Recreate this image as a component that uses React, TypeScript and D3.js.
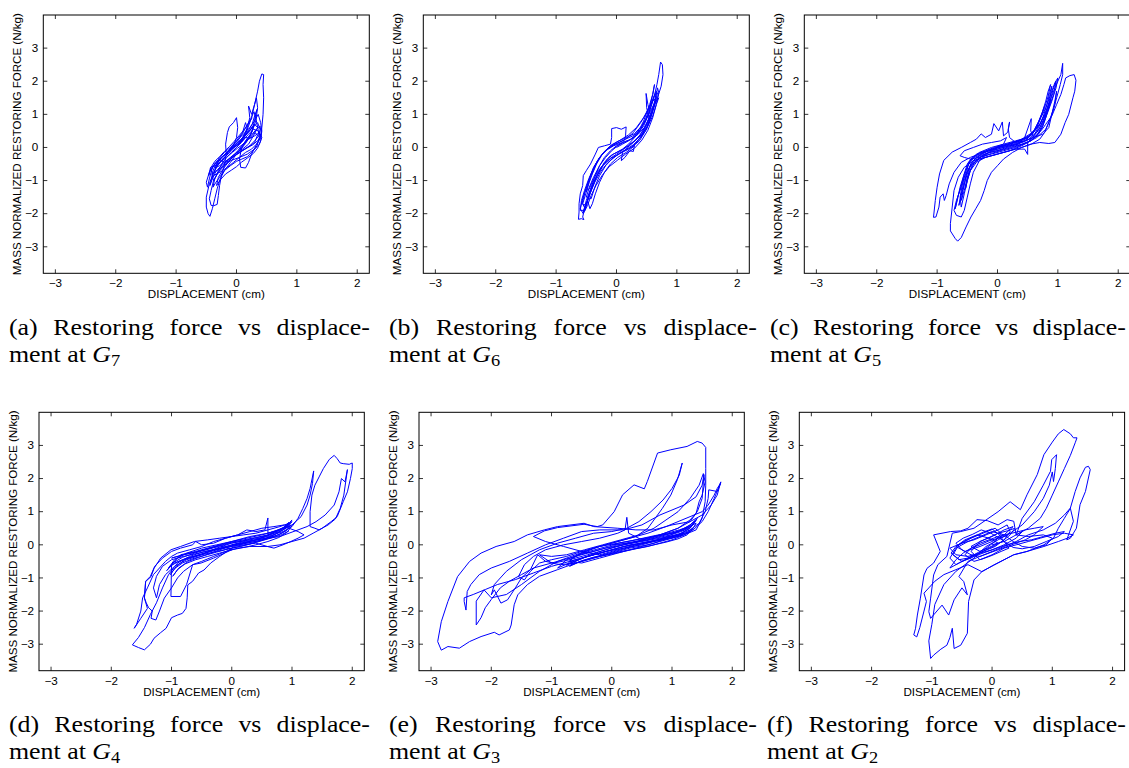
import React from "react";
import * as d3 from "d3";

type Pt = [number, number];

// Restoring force (N/kg) against displacement (cm), one trace per floor level.
const G7: Pt[] = [
  [0, 0], [0.08, 0.15], [0.15, 0.3], [0.22, 0.28], [0.3, 0.45], [0.35, 0.38], [0.3, 0.15], [0.2, 0.02],
  [0.1, -0.1], [0.02, -0.2], [-0.08, -0.3], [-0.18, -0.42], [-0.28, -0.55], [-0.35, -0.62], [-0.3, -0.4],
  [-0.22, -0.25], [-0.12, -0.1], [-0.02, 0.05], [0.1, 0.2], [0.2, 0.4], [0.28, 0.55], [0.36, 0.5], [0.4, 0.3],
  [0.33, 0.1], [0.25, -0.05], [0.15, -0.15], [0.05, -0.3], [-0.05, -0.45], [-0.15, -0.6], [-0.25, -0.72],
  [-0.38, -0.85], [-0.42, -0.7], [-0.35, -0.45], [-0.25, -0.3], [-0.15, -0.15], [-0.05, 0.0], [0.05, 0.12],
  [0.12, 0.35], [0.18, 0.6], [0.22, 0.9], [0.2, 1.25], [0.25, 1.0], [0.3, 1.3], [0.33, 1.5], [0.35, 1.2],
  [0.32, 0.8], [0.25, 0.45], [0.15, 0.2], [0.08, -0.05], [0.05, -0.35], [0.07, -0.6], [0.15, -0.62],
  [0.2, -0.45], [0.25, -0.2], [0.32, 0.05], [0.4, 0.3], [0.42, 0.6], [0.44, 1.0], [0.45, 1.5], [0.44, 1.9],
  [0.45, 2.2], [0.42, 2.22], [0.38, 2.0], [0.35, 1.7], [0.3, 1.3], [0.25, 0.9], [0.18, 0.55], [0.1, 0.3],
  [0.02, 0.1], [-0.08, -0.1], [-0.2, -0.3], [-0.3, -0.5], [-0.38, -0.75], [-0.45, -1.1], [-0.5, -1.5],
  [-0.5, -1.8], [-0.47, -2.0], [-0.44, -2.08], [-0.4, -1.85], [-0.36, -1.55], [-0.32, -1.25], [-0.27, -0.95],
  [-0.2, -0.7], [-0.1, -0.45], [0.0, -0.2], [0.1, 0.05], [0.2, 0.25], [0.3, 0.35], [0.38, 0.45], [0.42, 0.3],
  [0.38, 0.1], [0.3, -0.05], [0.18, -0.2], [0.05, -0.3], [-0.1, -0.4], [-0.2, -0.55], [-0.3, -0.75],
  [-0.38, -1.0], [-0.42, -1.3], [-0.45, -1.55], [-0.42, -1.75], [-0.38, -1.76], [-0.32, -1.72], [-0.3, -1.45],
  [-0.28, -1.15], [-0.25, -0.85], [-0.2, -0.55], [-0.17, -0.2], [-0.18, 0.1], [-0.15, 0.45], [-0.12, 0.62],
  [-0.05, 0.75], [0.0, 0.9], [0.02, 0.6], [0.0, 0.3], [-0.05, 0.05], [-0.12, -0.15], [-0.22, -0.35],
  [-0.32, -0.5], [-0.4, -0.6], [-0.45, -0.95], [-0.48, -1.2], [-0.5, -1.05], [-0.45, -0.75], [-0.38, -0.55],
  [-0.28, -0.35], [-0.18, -0.2], [-0.08, -0.05], [0.02, 0.15], [0.12, 0.3], [0.22, 0.5], [0.3, 0.7],
  [0.35, 0.6], [0.28, 0.35], [0.2, 0.1], [0.1, -0.05], [0.0, -0.15], [-0.1, -0.3], [-0.2, -0.45],
  [-0.3, -0.35], [-0.2, -0.15], [-0.1, 0.0], [0.0, 0.2], [0.1, 0.45], [0.15, 0.75], [0.18, 0.55],
  [0.12, 0.25], [0.05, 0.1], [0.12, 0.3], [0.2, 0.52], [0.26, 0.7], [0.3, 0.95], [0.34, 1.15], [0.3, 0.85],
  [0.27, 0.55], [0.22, 0.32], [0.15, 0.12], [0.06, -0.08], [-0.04, -0.22], [-0.14, -0.38], [-0.24, -0.58],
  [-0.32, -0.8], [-0.38, -1.0], [-0.41, -0.8], [-0.36, -0.58], [-0.3, -0.42], [-0.22, -0.3], [-0.14, -0.12],
  [-0.06, 0.05], [0.03, 0.22], [0.1, 0.42], [0.17, 0.66], [0.24, 0.88], [0.29, 1.08], [0.33, 0.8],
  [0.36, 0.52], [0.38, 0.28], [0.34, 0.05], [0.27, -0.12], [0.18, -0.28], [0.09, -0.35], [0.0, -0.42],
  [-0.1, -0.55], [-0.2, -0.7], [-0.28, -0.9], [-0.34, -1.05], [-0.39, -1.2], [-0.36, -0.95], [-0.3, -0.7],
  [-0.24, -0.48], [-0.16, -0.3], [-0.08, -0.15], [0.0, 0.0], [0.07, 0.18], [0.14, 0.36], [0.21, 0.5],
  [0.28, 0.62], [0.35, 0.75], [0.39, 0.55], [0.37, 0.35], [0.3, 0.2], [0.22, 0.05], [0.13, -0.05],
  [0.04, -0.15], [-0.06, -0.3], [-0.16, -0.48], [-0.26, -0.62], [-0.34, -0.72], [-0.4, -0.95], [-0.44, -1.15],
  [-0.4, -0.85], [-0.33, -0.6], [-0.25, -0.4], [-0.17, -0.25], [-0.1, -0.02], [-0.02, 0.15], [0.06, 0.3],
  [0.14, 0.45], [0.22, 0.6], [0.3, 0.8], [0.36, 1.0], [0.4, 0.75], [0.42, 0.5], [0.4, 0.2], [0.35, -0.02],
  [0.28, -0.18], [0.18, -0.32], [0.08, -0.45], [0.0, -0.58], [-0.08, -0.68], [-0.18, -0.8], [-0.27, -0.98],
  [-0.33, -1.15], [-0.3, -0.9], [-0.22, -0.65], [-0.14, -0.45], [-0.06, -0.28], [0.02, -0.1], [0.1, 0.08],
  [0.18, 0.25], [0.26, 0.4], [0.33, 0.55], [0.39, 0.65], [0.41, 0.42], [0.36, 0.22], [0.27, 0.08],
  [0.17, -0.02], [0.07, -0.12], [-0.03, -0.25], [-0.13, -0.4], [-0.23, -0.52], [-0.31, -0.66], [-0.37, -0.78],
  [-0.33, -0.5], [-0.26, -0.32], [-0.18, -0.18], [-0.1, -0.05], [-0.01, 0.1], [0.08, 0.25], [0.16, 0.42],
  [0.23, 0.55], [0.29, 0.7], [0.25, 0.45], [0.19, 0.26], [0.11, 0.1], [0.02, -0.02], [-0.07, -0.15],
  [-0.17, -0.3], [-0.27, -0.45], [-0.35, -0.55], [-0.43, -0.6], [-0.46, -0.85], [-0.42, -0.6], [-0.36, -0.42],
  [-0.28, -0.28], [-0.2, -0.12], [-0.12, 0.02], [-0.04, 0.18], [0.04, 0.35], [0.12, 0.52], [0.2, 0.72],
  [0.26, 0.9],
];

const G6: Pt[] = [
  [0, 0], [0.1, 0.1], [0.2, 0.2], [0.3, 0.35], [0.38, 0.55], [0.45, 0.8], [0.5, 1.05], [0.55, 1.3], [0.6, 1.6],
  [0.63, 1.9], [0.6, 1.6], [0.55, 1.2], [0.48, 0.85], [0.4, 0.55], [0.3, 0.3], [0.2, 0.1], [0.1, -0.05],
  [0, -0.15], [-0.1, -0.25], [-0.2, -0.45], [-0.3, -0.75], [-0.38, -1.05], [-0.45, -1.4], [-0.5, -1.7],
  [-0.55, -1.95], [-0.5, -1.6], [-0.42, -1.2], [-0.35, -0.85], [-0.28, -0.55], [-0.2, -0.3], [-0.1, -0.1],
  [0, 0.05], [0.12, 0.15], [0.25, 0.25], [0.35, 0.4], [0.45, 0.65], [0.52, 0.95], [0.58, 1.3], [0.62, 1.55],
  [0.66, 1.7], [0.63, 1.35], [0.58, 1.0], [0.5, 0.7], [0.4, 0.4], [0.3, 0.2], [0.2, 0.05], [0.08, -0.08],
  [-0.05, -0.2], [-0.15, -0.35], [-0.25, -0.6], [-0.35, -0.95], [-0.42, -1.3], [-0.48, -1.6], [-0.52, -1.85],
  [-0.56, -1.7], [-0.5, -1.35], [-0.45, -1.05], [-0.4, -0.8], [-0.33, -0.5], [-0.25, -0.25], [-0.15, -0.05],
  [-0.05, 0.08], [0.05, 0.15], [0.15, 0.25], [0.27, 0.35], [0.38, 0.5], [0.48, 0.8], [0.55, 1.1], [0.62, 1.5],
  [0.67, 1.9], [0.7, 2.2], [0.73, 2.58], [0.76, 2.5], [0.77, 2.2], [0.74, 1.85], [0.68, 1.5], [0.6, 1.15],
  [0.55, 0.9], [0.47, 0.6], [0.38, 0.35], [0.28, 0.15], [0.18, 0.0], [0.1, -0.15], [0.08, -0.4], [0.14, -0.3],
  [0.22, -0.1], [0.28, -0.12], [0.3, 0.1], [0.4, 0.3], [0.5, 0.55], [0.55, 0.8], [0.5, 1.2], [0.49, 1.63],
  [0.52, 1.3], [0.56, 1.0], [0.6, 1.2], [0.65, 1.5], [0.68, 1.8], [0.7, 1.65], [0.66, 1.3], [0.6, 0.95],
  [0.52, 0.65], [0.42, 0.4], [0.32, 0.22], [0.22, 0.1], [0.12, -0.05], [0.0, -0.2], [-0.12, -0.35],
  [-0.22, -0.55], [-0.32, -0.85], [-0.4, -1.2], [-0.47, -1.55], [-0.53, -1.85], [-0.56, -2.1], [-0.54, -2.18],
  [-0.58, -2.15], [-0.63, -2.17], [-0.62, -1.95], [-0.62, -1.7], [-0.6, -1.4], [-0.56, -1.15], [-0.55, -0.85],
  [-0.5, -0.7], [-0.43, -0.5], [-0.35, -0.2], [-0.3, 0.0], [-0.2, 0.05], [-0.1, 0.1], [-0.08, 0.3],
  [-0.08, 0.57], [0.0, 0.6], [0.08, 0.55], [0.16, 0.62], [0.15, 0.35], [0.14, 0.26], [0.1, 0.15], [0.02, 0.05],
  [-0.08, -0.1], [-0.18, -0.3], [-0.28, -0.55], [-0.38, -0.9], [-0.45, -1.2], [-0.5, -1.5], [-0.42, -1.55],
  [-0.36, -1.2], [-0.28, -0.85], [-0.18, -0.55], [-0.05, -0.3], [0.1, -0.12], [0.25, 0.0], [0.38, 0.2],
  [0.48, 0.5], [0.56, 0.85], [0.62, 1.2], [0.66, 1.5], [0.6, 1.4], [0.5, 1.05], [0.4, 0.75], [0.28, 0.45],
  [0.15, 0.25], [0.0, 0.12], [-0.15, -0.05], [-0.28, -0.3], [-0.38, -0.6], [-0.46, -1.0], [-0.52, -1.35],
  [-0.57, -1.7], [-0.5, -1.75], [-0.44, -1.4], [-0.36, -1.05], [-0.26, -0.72], [-0.14, -0.45], [0.0, -0.25],
  [0.14, -0.08], [0.28, 0.08], [0.4, 0.3], [0.5, 0.62], [0.58, 0.98], [0.64, 1.35], [0.68, 1.65], [0.64, 1.6],
  [0.55, 1.25], [0.45, 0.9], [0.33, 0.6], [0.2, 0.38], [0.06, 0.22], [-0.08, 0.08], [-0.2, -0.12],
  [-0.32, -0.42], [-0.42, -0.8], [-0.5, -1.2], [-0.56, -1.55], [-0.6, -1.85], [-0.55, -2.0], [-0.48, -1.75],
  [-0.42, -1.45], [-0.34, -1.15], [-0.24, -0.85], [-0.12, -0.58], [0.02, -0.38], [0.15, -0.2], [0.3, -0.02],
  [0.42, 0.22], [0.52, 0.52], [0.6, 0.9], [0.66, 1.3], [0.7, 1.5], [0.62, 1.3], [0.52, 0.95], [0.42, 0.65],
  [0.3, 0.42], [0.16, 0.3], [0.02, 0.18], [-0.12, 0.02], [-0.24, -0.2], [-0.34, -0.5], [-0.43, -0.9],
  [-0.5, -1.3], [-0.45, -1.25], [-0.38, -0.95], [-0.3, -0.7], [-0.2, -0.48], [-0.08, -0.32], [0.06, -0.18],
  [0.2, -0.05], [0.32, 0.12], [0.42, 0.38], [0.5, 0.7], [0.56, 1.0], [0.53, 0.85], [0.46, 0.6], [0.36, 0.4],
  [0.24, 0.25], [0.1, 0.15], [-0.05, 0.05], [-0.18, -0.1], [-0.28, -0.3], [-0.38, -0.62], [-0.46, -0.95],
  [-0.53, -1.3], [-0.58, -1.6], [-0.6, -1.9], [-0.52, -1.9], [-0.48, -1.6], [-0.44, -1.85], [-0.4, -1.7],
  [-0.35, -1.4], [-0.28, -1.05], [-0.2, -0.75], [-0.1, -0.5], [0.02, -0.3], [0.16, -0.15], [0.3, 0.05],
];

const G5: Pt[] = [
  [0, 0], [0.15, 0.05], [0.3, 0.12], [0.45, 0.2], [0.55, 0.35], [0.65, 0.6], [0.72, 0.9], [0.8, 1.2],
  [0.88, 1.6], [0.95, 1.95], [1.0, 2.1], [0.97, 1.8], [0.9, 1.4], [0.82, 1.0], [0.75, 0.65], [0.68, 0.4],
  [0.55, 0.2], [0.4, 0.05], [0.2, -0.1], [0, -0.2], [-0.2, -0.3], [-0.35, -0.45], [-0.45, -0.7], [-0.5, -1.0],
  [-0.55, -1.4], [-0.6, -1.8], [-0.62, -1.5], [-0.58, -1.1], [-0.52, -0.7], [-0.45, -0.4], [-0.3, -0.15],
  [-0.1, 0.0], [0.1, 0.1], [0.3, 0.2], [0.5, 0.3], [0.62, 0.5], [0.72, 0.75], [0.8, 1.05], [0.87, 1.4],
  [0.92, 1.75], [0.97, 2.0], [0.93, 1.6], [0.86, 1.25], [0.78, 0.9], [0.7, 0.6], [0.6, 0.35], [0.5, 0.15],
  [0.5, -0.21], [0.45, -0.05], [0.3, -0.05], [0.1, -0.15], [-0.1, -0.25], [-0.3, -0.35], [-0.45, -0.55],
  [-0.55, -0.9], [-0.62, -1.3], [-0.68, -1.6], [-0.72, -1.9], [-0.68, -2.05], [-0.6, -2.1], [-0.55, -1.9],
  [-0.5, -1.5], [-0.45, -1.1], [-0.4, -0.75], [-0.3, -0.4], [-0.15, -0.15], [0, 0.0], [0.2, 0.1], [0.4, 0.25],
  [0.58, 0.45], [0.7, 0.7], [0.78, 1.0], [0.86, 1.35], [0.93, 1.7], [1.0, 2.0], [1.05, 2.2], [1.08, 2.54],
  [1.08, 2.2], [1.04, 1.9], [0.98, 1.5], [0.92, 1.1], [0.85, 0.75], [0.78, 0.45], [0.7, 0.25], [0.56, 0.1],
  [0.4, 0.0], [0.2, -0.1], [0.0, -0.2], [-0.2, -0.3], [-0.4, -0.4], [-0.55, -0.6], [-0.65, -0.9],
  [-0.72, -1.3], [-0.75, -1.8], [-0.78, -2.3], [-0.78, -2.52], [-0.7, -2.75], [-0.66, -2.83], [-0.6, -2.72],
  [-0.52, -2.4], [-0.44, -2.1], [-0.36, -1.85], [-0.28, -1.6], [-0.22, -1.3], [-0.17, -1.0], [-0.1, -0.75],
  [0.0, -0.55], [0.1, -0.35], [0.25, -0.15], [0.4, 0.0], [0.55, 0.1], [0.7, 0.15], [0.85, 0.12], [0.95, 0.15],
  [1.05, 0.4], [1.12, 0.75], [1.18, 1.0], [1.25, 1.5], [1.28, 1.7], [1.3, 2.03], [1.27, 2.2], [1.2, 2.17],
  [1.13, 2.1], [1.1, 1.9], [1.05, 1.6], [0.98, 1.3], [0.9, 0.95], [0.8, 0.7], [0.72, 0.5], [0.6, 0.3],
  [0.45, 0.2], [0.3, 0.15], [0.2, 0.3], [0.18, 0.55], [0.2, 0.77], [0.17, 0.46], [0.1, 0.35], [0.08, 0.77],
  [0.02, 0.5], [-0.06, 0.72], [-0.1, 0.4], [-0.2, 0.3], [-0.27, 0.41], [-0.35, 0.25], [-0.45, 0.15],
  [-0.6, 0.0], [-0.75, -0.14], [-0.89, -0.39], [-0.96, -0.8], [-1.0, -1.2], [-1.03, -1.6], [-1.06, -2.11],
  [-1.02, -2.1], [-0.97, -1.8], [-0.95, -1.5], [-0.9, -1.4], [-0.88, -1.6], [-0.85, -1.45], [-0.8, -1.1],
  [-0.72, -0.75], [-0.6, -0.45], [-0.45, -0.3], [-0.3, -0.2], [-0.15, -0.1], [0.0, -0.05], [0.2, 0.05],
  [0.35, 0.1], [0.45, 0.3], [0.56, 0.87], [0.55, 0.5], [0.6, 0.3], [0.75, 0.4], [0.85, 0.6], [0.9, 1.0],
  [0.95, 1.4], [0.98, 1.7], [0.95, 1.3], [0.88, 0.9], [0.8, 0.55], [0.65, 0.3], [0.5, 0.15], [0.3, 0.0],
  [0.1, -0.1], [-0.1, -0.2], [-0.3, -0.3], [-0.45, -0.35], [-0.55, -0.3], [-0.62, -0.25], [-0.55, -0.1],
  [-0.4, 0.0], [-0.25, 0.1], [-0.1, 0.15], [0.05, 0.2], [0.15, 0.3], [0.1, 0.1], [-0.05, 0.0], [-0.2, -0.1],
  [-0.35, -0.2], [-0.48, -0.45], [-0.52, -0.85], [-0.57, -1.3], [-0.6, -1.6], [-0.55, -1.3], [-0.5, -0.9],
  [-0.42, -0.55], [-0.3, -0.3], [-0.15, -0.15], [0.0, -0.1], [0.2, 0.0], [0.4, 0.1], [0.55, 0.2], [0.65, 0.35],
  [0.72, 0.6], [0.78, 0.85], [0.84, 1.15], [0.88, 1.45], [0.85, 1.2], [0.8, 0.9], [0.74, 0.6], [0.66, 0.38],
  [0.56, 0.22], [0.42, 0.1], [0.25, 0.0], [0.08, -0.08], [-0.1, -0.18], [-0.26, -0.28], [-0.38, -0.4],
  [-0.46, -0.62], [-0.5, -0.95], [-0.53, -1.25], [-0.5, -1.0], [-0.45, -0.7], [-0.38, -0.45], [-0.25, -0.25],
  [-0.1, -0.12], [0.05, -0.02], [0.22, 0.06], [0.38, 0.15], [0.52, 0.25], [0.62, 0.42], [0.7, 0.68],
  [0.76, 0.95], [0.82, 1.3], [0.86, 1.6], [0.9, 1.85], [0.87, 1.5], [0.82, 1.15], [0.76, 0.82], [0.68, 0.52],
  [0.58, 0.3], [0.45, 0.18], [0.3, 0.08], [0.12, -0.02], [-0.05, -0.12], [-0.22, -0.2], [-0.35, -0.3],
  [-0.44, -0.48], [-0.5, -0.8], [-0.55, -1.1], [-0.6, -1.45], [-0.64, -1.75], [-0.6, -1.4], [-0.55, -1.0],
  [-0.48, -0.65], [-0.4, -0.4], [-0.28, -0.22], [-0.12, -0.08], [0.05, 0.05], [0.2, 0.12], [0.35, 0.2],
  [0.5, 0.3], [0.6, 0.5], [0.68, 0.78], [0.74, 1.05], [0.8, 1.4], [0.84, 1.7], [0.88, 1.9], [0.84, 1.55],
  [0.78, 1.2], [0.7, 0.85], [0.62, 0.55], [0.52, 0.35], [0.38, 0.22], [0.2, 0.12], [0.02, 0.02],
  [-0.15, -0.08], [-0.3, -0.18], [-0.42, -0.3], [-0.5, -0.5], [-0.56, -0.85], [-0.62, -1.2], [-0.66, -1.55],
  [-0.7, -1.85], [-0.66, -1.5], [-0.6, -1.15], [-0.55, -0.8], [-0.48, -0.5], [-0.38, -0.3], [-0.22, -0.15],
  [-0.05, -0.05], [0.12, 0.05], [0.3, 0.15], [0.46, 0.25], [0.58, 0.4], [0.66, 0.65], [0.72, 0.95],
  [0.78, 1.25],
];

const G4: Pt[] = [
  [0, 0], [0.2, 0.05], [0.4, 0.15], [0.6, 0.3], [0.8, 0.45], [0.95, 0.6], [1.0, 0.7], [0.85, 0.45],
  [0.65, 0.25], [0.45, 0.1], [0.25, 0.0], [0, -0.1], [-0.25, -0.2], [-0.5, -0.3], [-0.75, -0.4],
  [-0.95, -0.55], [-1.05, -0.7], [-0.95, -0.45], [-0.75, -0.25], [-0.5, -0.1], [-0.25, 0.0], [0, 0.1],
  [0.25, 0.2], [0.5, 0.3], [0.7, 0.4], [0.9, 0.55], [1.0, 0.75], [0.9, 0.5], [0.7, 0.3], [0.5, 0.15],
  [0.25, 0.05], [0, -0.05], [-0.3, -0.15], [-0.55, -0.25], [-0.8, -0.35], [-1.0, -0.45], [-1.15, -0.65],
  [-1.25, -0.95], [-1.3, -1.3], [-1.25, -1.6], [-1.2, -1.2], [-1.1, -0.9], [-0.95, -0.65], [-0.75, -0.45],
  [-0.5, -0.3], [-0.25, -0.1], [0, 0.05], [0.3, 0.15], [0.6, 0.25], [0.85, 0.4], [1.0, 0.55], [1.1, 0.8],
  [1.18, 1.1], [1.25, 1.4], [1.3, 1.7], [1.36, 2.23], [1.34, 1.85], [1.3, 1.5], [1.25, 1.2], [1.15, 0.85],
  [1.0, 0.6], [0.8, 0.45], [0.6, 0.35], [0.6, 0.81], [0.55, 0.45], [0.4, 0.4], [0.25, 0.45], [0.1, 0.3],
  [-0.1, 0.2], [-0.3, 0.05], [-0.5, 0.0], [-0.6, 0.1], [-0.65, 0.0], [-0.85, -0.1], [-1.0, -0.2],
  [-1.15, -0.4], [-1.28, -0.65], [-1.35, -0.95], [-1.43, -1.1], [-1.45, -1.6], [-1.42, -1.75], [-1.38, -1.9],
  [-1.32, -2.0], [-1.34, -2.22], [-1.26, -2.27], [-1.2, -2.0], [-1.12, -1.61], [-1.0, -1.3], [-0.9, -1.0],
  [-0.8, -0.8], [-0.65, -0.6], [-0.5, -0.5], [-0.3, -0.35], [-0.1, -0.2], [0.1, -0.1], [0.3, -0.05],
  [0.6, -0.05], [0.8, 0.0], [1.0, 0.1], [1.2, 0.2], [1.35, 0.35], [1.5, 0.5], [1.65, 0.7], [1.75, 0.85],
  [1.85, 1.3], [1.92, 1.6], [1.97, 2.0], [2.0, 2.3], [2.0, 2.47], [1.95, 2.43], [1.85, 2.45], [1.8, 2.47],
  [1.75, 2.6], [1.7, 2.7], [1.62, 2.58], [1.52, 2.3], [1.45, 2.05], [1.38, 1.8], [1.33, 1.5], [1.3, 1.0],
  [1.3, 0.55], [1.38, 0.5], [1.45, 0.45], [1.6, 0.6], [1.72, 0.78], [1.8, 1.1], [1.86, 1.5], [1.92, 2.27],
  [1.88, 1.9], [1.82, 2.0], [1.78, 1.6], [1.7, 1.2], [1.55, 0.9], [1.4, 0.7], [1.25, 0.55], [1.1, 0.45],
  [0.95, 0.35], [0.8, 0.25], [0.6, 0.2], [0.4, 0.15], [0.2, 0.1], [0, 0.0], [-0.2, -0.1], [-0.45, -0.2],
  [-0.7, -0.35], [-0.9, -0.55], [-1.05, -0.9], [-1.15, -1.3], [-1.25, -1.75], [-1.35, -2.1], [-1.45, -2.5],
  [-1.55, -2.8], [-1.65, -3.02], [-1.55, -3.1], [-1.45, -3.17], [-1.35, -3.0], [-1.29, -2.82], [-1.18, -2.65],
  [-1.09, -2.52], [-1.0, -2.2], [-0.9, -2.12], [-0.82, -2.07], [-0.76, -1.92], [-0.74, -1.6], [-0.73, -1.21],
  [-0.65, -1.1], [-0.55, -0.85], [-0.46, -0.76], [-0.35, -0.55], [-0.2, -0.35], [0.04, -0.05], [0.2, 0.0],
  [0.4, 0.05], [0.59, -0.05], [0.7, -0.1], [0.85, 0.0], [0.98, 0.1], [1.1, 0.2], [1.2, 0.3], [1.1, 0.4],
  [0.95, 0.5], [0.87, 0.6], [0.7, 0.55], [0.5, 0.5], [0.3, 0.4], [0.1, 0.3], [-0.1, 0.2], [-0.3, 0.1],
  [-0.5, -0.05], [-0.7, -0.15], [-0.9, -0.25], [-1.0, -0.35], [-1.1, -0.5], [-1.2, -0.7], [-1.3, -0.9],
  [-1.4, -1.3], [-1.48, -1.6], [-1.51, -2.0], [-1.58, -2.4], [-1.62, -2.52], [-1.51, -2.22], [-1.4, -1.92],
  [-1.45, -1.61], [-1.43, -1.11], [-1.34, -0.96], [-1.29, -0.71], [-1.18, -0.4], [-1.01, -0.15],
  [-0.85, -0.05], [-0.62, 0.1], [-0.4, 0.15], [-0.2, 0.2], [0.0, 0.25], [0.2, 0.3], [0.4, 0.35],
  [0.6, 0.45], [0.8, 0.55], [0.95, 0.65], [0.85, 0.5], [0.6, 0.35], [0.3, 0.25], [0.0, 0.1], [-0.3, -0.05],
  [-0.6, -0.2], [-0.85, -0.3], [-1.0, -0.6], [-1.01, -1.56], [-0.85, -1.56], [-0.75, -1.2], [-0.65, -0.6],
  [-0.51, -0.55], [-0.3, -0.4], [0, -0.15], [-0.2, -0.02], [-0.4, -0.12], [-0.6, -0.22], [-0.8, -0.3],
  [-1.0, -0.4], [-0.8, -0.3], [-0.6, -0.22], [-0.4, -0.12], [-0.2, -0.02], [0.0, 0.08], [0.2, 0.15],
  [0.4, 0.22], [0.6, 0.3], [0.75, 0.42], [0.88, 0.55], [0.95, 0.68], [0.85, 0.5], [0.7, 0.35], [0.5, 0.2],
  [0.3, 0.1], [0.1, 0.02], [-0.1, -0.08], [-0.3, -0.18], [-0.5, -0.28], [-0.7, -0.38], [-0.88, -0.5],
  [-1.0, -0.62], [-1.08, -0.78], [-0.98, -0.55], [-0.82, -0.38], [-0.62, -0.25], [-0.42, -0.15],
  [-0.22, -0.05], [-0.02, 0.05], [0.18, 0.12], [0.38, 0.2], [0.58, 0.28], [0.76, 0.38], [0.9, 0.5],
  [0.98, 0.6], [0.9, 0.42], [0.74, 0.28], [0.55, 0.15], [0.35, 0.05], [0.15, -0.05], [-0.05, -0.12],
  [-0.25, -0.22], [-0.45, -0.32], [-0.65, -0.42], [-0.82, -0.55], [-0.95, -0.72], [-1.02, -0.9],
  [-0.92, -0.65], [-0.78, -0.45], [-0.58, -0.32], [-0.38, -0.2], [-0.18, -0.1], [0.02, 0.0], [0.22, 0.08],
  [0.42, 0.15], [0.62, 0.22], [0.8, 0.32], [0.92, 0.45], [1.0, 0.58], [0.92, 0.38], [0.78, 0.22], [0.6, 0.1],
  [0.4, 0.0], [0.2, -0.08], [0.0, -0.15], [-0.2, -0.25], [-0.4, -0.35], [-0.6, -0.45], [-0.78, -0.58],
  [-0.9, -0.75], [-0.98, -0.95], [-0.88, -0.7], [-0.72, -0.5], [-0.55, -0.38], [-0.35, -0.25], [-0.15, -0.12],
  [0.05, -0.02], [0.25, 0.05], [0.45, 0.12], [0.65, 0.2], [0.82, 0.3], [0.95, 0.42],
];

const G3: Pt[] = [
  [0, 0], [0.3, 0.05], [0.6, 0.15], [0.9, 0.3], [1.1, 0.4], [1.3, 0.55], [1.4, 0.75], [1.3, 0.5], [1.1, 0.3],
  [0.8, 0.15], [0.5, 0.0], [0.2, -0.1], [-0.1, -0.2], [-0.4, -0.35], [-0.7, -0.55], [-0.9, -0.7],
  [-0.75, -0.45], [-0.5, -0.25], [-0.2, -0.05], [0.1, 0.05], [0.4, 0.15], [0.7, 0.25], [1.0, 0.35],
  [1.2, 0.45], [1.35, 0.6], [1.42, 0.8], [1.3, 0.6], [1.1, 0.4], [0.85, 0.2], [0.55, 0.05], [0.25, -0.1],
  [-0.05, -0.25], [-0.35, -0.4], [-0.6, -0.55], [-0.85, -0.6], [-1.0, -0.55], [-1.2, -0.3], [-1.0, -0.35],
  [-0.75, -0.3], [-0.45, -0.15], [-0.15, 0.0], [0.15, 0.15], [0.45, 0.3], [0.7, 0.5], [0.9, 0.75],
  [1.1, 1.0], [1.3, 1.4], [1.45, 1.8], [1.52, 2.15], [1.55, 1.9], [1.5, 1.5], [1.45, 1.3], [1.4, 0.95],
  [1.3, 0.7], [1.1, 0.5], [0.8, 0.3], [0.5, 0.15], [0.28, 0.35], [0.25, 0.83], [0.22, 0.45], [0.1, 0.35],
  [-0.2, 0.2], [-0.5, 0.1], [-0.8, 0.0], [-1.1, -0.15], [-1.3, -0.35], [-1.45, -0.6], [-1.55, -0.96],
  [-1.45, -1.06], [-1.35, -0.8], [-1.2, -0.55], [-1.0, -0.45], [-0.75, -0.35], [-0.5, -0.2], [-0.2, -0.05],
  [0.1, 0.1], [0.4, 0.25], [0.6, 0.5], [0.76, 0.9], [0.84, 1.1], [0.98, 1.5], [1.09, 1.97], [1.17, 2.47],
  [1.12, 2.1], [1.0, 1.7], [0.85, 1.35], [0.65, 1.0], [0.45, 0.7], [0.25, 0.5], [0, 0.4], [-0.3, 0.35],
  [-0.6, 0.2], [-0.9, 0.05], [-1.2, -0.15], [-1.5, -0.45], [-1.75, -0.8], [-1.95, -1.2], [-2.0, -1.51],
  [-1.95, -1.36], [-1.84, -1.76], [-1.73, -1.66], [-1.6, -1.3], [-1.5, -1.0], [-1.35, -0.75], [-1.23, -0.3],
  [-1.1, -0.5], [-0.96, -0.55], [-0.7, -0.45], [-0.4, -0.3], [-0.1, -0.15], [0.2, 0.0], [0.5, 0.1],
  [0.8, 0.2], [1.1, 0.3], [1.3, 0.45], [1.45, 0.65], [1.55, 1.0], [1.6, 1.4], [1.61, 1.66], [1.75, 1.61],
  [1.81, 1.87], [1.75, 1.7], [1.7, 1.5], [1.6, 1.2], [1.5, 1.0], [1.3, 0.85], [1.1, 0.7], [0.9, 0.55],
  [0.6, 0.35], [0.3, 0.2], [0, 0.05], [-0.3, -0.1], [-0.6, -0.3], [-0.9, -0.5], [-1.2, -0.8], [-1.5, -1.2],
  [-1.75, -1.5], [-2.0, -1.6], [-2.12, -1.36], [-2.25, -1.7], [-2.25, -2.42], [-2.17, -2.2], [-2.1, -1.9],
  [-2.0, -1.65], [-1.85, -1.3], [-1.7, -1.1], [-1.5, -0.9], [-1.3, -0.7], [-1.0, -0.55], [-0.7, -0.4],
  [-0.4, -0.25], [-0.1, -0.1], [0.2, 0.0], [0.5, 0.15], [0.8, 0.3], [1.1, 0.5], [1.3, 0.75], [1.42, 1.0],
  [1.5, 1.4], [1.53, 2.12], [1.5, 1.8], [1.4, 1.45], [1.2, 1.2], [1.0, 1.05], [0.8, 0.9], [0.5, 0.6],
  [0.2, 0.45], [-0.2, 0.45], [-0.5, 0.4], [-0.8, 0.2], [-1.1, 0.0], [-1.4, -0.25], [-1.7, -0.5],
  [-2.0, -0.7], [-2.2, -0.9], [-2.34, -1.2], [-2.4, -1.41], [-2.42, -1.97], [-2.45, -1.71], [-2.45, -1.6],
  [-2.3, -1.5], [-2.1, -1.35], [-1.9, -1.2], [-1.6, -1.05], [-1.3, -0.85], [-1.0, -0.65], [-0.7, -0.5],
  [-0.4, -0.35], [-0.1, -0.2], [0.2, -0.05], [0.5, 0.05], [0.8, 0.15], [1.1, 0.25], [1.35, 0.45],
  [1.5, 0.7], [1.6, 1.0], [1.7, 1.4], [1.78, 1.75], [1.81, 1.9], [1.75, 1.5], [1.65, 1.2], [1.5, 0.9],
  [1.3, 0.7], [1.0, 0.6], [0.7, 0.45], [0.4, 0.45], [0.1, 0.5], [-0.3, 0.55], [-0.46, 0.65], [-0.9, 0.55],
  [-1.12, 0.45], [-1.4, 0.3], [-1.62, 0.1], [-1.92, -0.05], [-2.17, -0.25], [-2.36, -0.5], [-2.56, -0.96],
  [-2.72, -1.71], [-2.83, -2.32], [-2.89, -2.92], [-2.83, -3.18], [-2.72, -3.07], [-2.53, -3.12],
  [-2.36, -2.92], [-2.17, -2.77], [-1.95, -2.64], [-1.87, -2.72], [-1.7, -2.57], [-1.67, -2.42],
  [-1.62, -1.81], [-1.56, -1.51], [-1.4, -1.2], [-1.2, -0.95], [-0.9, -0.75], [-0.6, -0.55], [-0.3, -0.4],
  [0, -0.25], [0.3, -0.1], [0.6, 0.0], [0.9, 0.15], [1.2, 0.3], [1.4, 0.45], [1.5, 0.8], [1.55, 1.3],
  [1.56, 1.8], [1.56, 2.3], [1.56, 2.94], [1.5, 3.07], [1.42, 3.12], [1.25, 2.97], [0.98, 2.87],
  [0.76, 2.77], [0.59, 1.91], [0.54, 1.69], [0.37, 1.81], [0.18, 1.51], [0.04, 1.0], [-0.15, 0.6],
  [-0.24, 0.55], [-0.46, 0.62], [-0.9, 0.52], [-1.12, 0.42], [-1.3, 0.25], [-1.1, 0.1], [-0.8, -0.05],
  [-0.5, -0.2], [-0.2, -0.3], [0.1, -0.15], [0.4, 0.0], [0.7, 0.1], [1.0, 0.2], [1.2, 0.35], [1.0, 0.25],
  [0.7, 0.05], [0.4, -0.1], [0.1, -0.25], [-0.2, -0.4], [-0.5, -0.55], [-0.7, -0.5], [-0.5, -0.4],
  [-0.3, -0.3], [-0.1, -0.2], [0.1, -0.1], [0.3, 0.0], [0.5, 0.05], [0.7, 0.12], [0.9, 0.2], [1.1, 0.28],
  [1.25, 0.38], [1.35, 0.5], [1.25, 0.3], [1.1, 0.18], [0.9, 0.08], [0.7, 0.0], [0.5, -0.08], [0.3, -0.15],
  [0.1, -0.22], [-0.1, -0.3], [-0.3, -0.38], [-0.5, -0.48], [-0.65, -0.6], [-0.7, -0.45], [-0.55, -0.3],
  [-0.35, -0.22], [-0.15, -0.12], [0.05, -0.02], [0.25, 0.06], [0.45, 0.12], [0.65, 0.2], [0.85, 0.3],
  [1.05, 0.38], [1.2, 0.48], [1.3, 0.6], [1.38, 0.72], [1.3, 0.5], [1.15, 0.35], [0.95, 0.25], [0.75, 0.15],
  [0.55, 0.08], [0.35, 0.0], [0.15, -0.08], [-0.05, -0.18], [-0.25, -0.28], [-0.45, -0.38], [-0.62, -0.5],
  [-0.75, -0.62], [-0.65, -0.4], [-0.48, -0.25], [-0.28, -0.15], [-0.08, -0.05], [0.12, 0.05], [0.32, 0.12],
  [0.52, 0.2], [0.72, 0.28], [0.92, 0.35], [1.12, 0.45], [1.28, 0.55], [1.4, 0.65], [1.32, 0.42],
  [1.18, 0.28], [1.0, 0.15], [0.8, 0.05], [0.6, -0.05], [0.4, -0.12], [0.2, -0.2], [0.0, -0.28],
  [-0.2, -0.35], [-0.4, -0.45], [-0.58, -0.55], [-0.7, -0.65], [-0.6, -0.5], [-0.42, -0.35], [-0.22, -0.22],
  [-0.02, -0.1], [0.18, 0.0], [0.38, 0.08], [0.58, 0.15], [0.78, 0.22], [0.98, 0.3], [1.15, 0.4], [1.3, 0.52],
];

const G2: Pt[] = [
  [0, 0], [0.2, 0.1], [0.35, 0.25], [0.5, 0.4], [0.4, 0.2], [0.2, 0.0], [0, -0.15], [-0.2, -0.25],
  [-0.4, -0.35], [-0.6, -0.3], [-0.7, -0.1], [-0.5, 0.05], [-0.3, 0.15], [-0.1, 0.3], [0.1, 0.45],
  [0.25, 0.6], [0.3, 0.4], [0.2, 0.15], [0.05, -0.05], [-0.15, -0.2], [-0.35, -0.4], [-0.5, -0.5],
  [-0.65, -0.3], [-0.55, 0.0], [-0.35, 0.2], [-0.15, 0.35], [0.05, 0.5], [0.15, 0.35], [0.05, 0.1],
  [-0.1, -0.1], [-0.3, -0.3], [-0.45, -0.45], [-0.6, -0.6], [-0.7, -0.4], [-0.6, -0.1], [-0.4, 0.1],
  [-0.2, 0.25], [0.0, 0.4], [0.2, 0.3], [0.35, 0.1], [0.5, -0.05], [0.7, -0.1], [0.9, 0.0], [1.0, 0.2],
  [0.85, 0.3], [0.6, 0.25], [0.4, 0.3], [0.36, 0.71], [0.25, 0.76], [0.1, 0.6], [-0.08, 0.73],
  [-0.25, 0.76], [-0.4, 0.5], [-0.52, 0.42], [-0.69, 0.4], [-0.97, 0.3], [-0.86, -0.2], [-0.97, -0.55],
  [-1.08, -0.71], [-1.13, -0.91], [-1.19, -1.61], [-1.24, -2.12], [-1.27, -2.52], [-1.3, -2.72],
  [-1.25, -2.78], [-1.2, -2.5], [-1.13, -2.0], [-1.09, -1.71], [-1.13, -1.46], [-1.05, -1.3], [-0.95, -1.1],
  [-0.8, -0.9], [-0.6, -0.75], [-0.4, -0.6], [-0.17, -0.81], [0.03, -0.61], [0.36, -0.3], [0.58, -0.2],
  [0.86, 0.0], [1.02, 0.2], [1.1, 0.5], [1.2, 0.8], [1.3, 1.1], [1.35, 0.71], [1.24, 0.15], [1.3, 0.2],
  [1.4, 0.5], [1.46, 1.21], [1.55, 1.61], [1.63, 2.27], [1.6, 2.37], [1.55, 2.34], [1.46, 2.02],
  [1.38, 1.61], [1.3, 1.11], [1.2, 0.9], [1.05, 0.65], [0.85, 0.45], [0.6, 0.3], [0.4, 0.1], [0.2, -0.05],
  [0, -0.2], [-0.2, -0.35], [-0.4, -0.5], [-0.55, -0.96], [-0.47, -1.11], [-0.41, -1.51], [-0.5, -1.3],
  [-0.63, -1.66], [-0.72, -2.12], [-0.83, -1.82], [-1.02, -2.22], [-1.05, -2.02], [-1.02, -1.61],
  [-0.97, -0.91], [-0.9, -0.6], [-0.75, -0.35], [-0.66, 0.35], [-0.52, 0.4], [-0.3, 0.5], [-0.1, 0.75],
  [0.1, 1.0], [0.3, 1.3], [0.47, 1.06], [0.58, 1.51], [0.75, 2.12], [0.86, 2.72], [1.0, 3.1], [1.1, 3.35],
  [1.19, 3.48], [1.3, 3.35], [1.35, 3.23], [1.41, 3.23], [1.38, 3.08], [1.3, 2.7], [1.2, 2.3], [1.1, 1.9],
  [1.0, 1.5], [0.9, 1.1], [0.8, 0.8], [0.6, 0.5], [0.4, 0.3], [0.5, 0.8], [0.7, 1.3], [0.85, 1.8],
  [0.97, 2.22], [0.99, 2.57], [1.07, 2.72], [1.05, 2.3], [1.02, 1.91], [1.0, 2.2], [0.95, 1.8],
  [0.85, 1.4], [0.7, 1.0], [0.5, 0.6], [0.3, 0.35], [0.1, 0.15], [-0.1, -0.05], [-0.3, -0.4], [-0.6, -0.8],
  [-0.8, -1.2], [-0.95, -1.8], [-1.0, -2.4], [-1.05, -2.9], [-1.02, -3.43], [-0.97, -3.33], [-0.85, -3.15],
  [-0.75, -3.03], [-0.7, -2.8], [-0.66, -2.52], [-0.63, -3.13], [-0.52, -3.03], [-0.41, -2.67],
  [-0.39, -1.71], [-0.3, -1.06], [-0.17, -0.81], [0.03, -0.61], [0.36, -0.3], [0.58, -0.2], [0.86, -0.05],
  [1.1, 0.1], [1.25, 0.2], [1.35, 0.3], [1.2, 0.35], [1.0, 0.3], [0.8, 0.2], [0.6, 0.1], [0.4, 0.0],
  [0.2, -0.1], [0.0, -0.3], [-0.2, -0.45], [-0.35, -0.2], [-0.2, 0.1], [0.0, 0.25], [0.2, 0.45],
  [0.35, 0.55], [0.2, 0.3], [0.0, 0.1], [-0.2, -0.05], [-0.45, -0.2], [-0.6, -0.05], [-0.45, 0.15],
  [-0.25, 0.3], [-0.05, 0.2], [0.1, 0.05], [-0.05, -0.08], [-0.2, -0.2], [-0.35, -0.05], [-0.2, 0.1],
  [-0.05, 0.22], [0.1, 0.35], [0.25, 0.42], [0.38, 0.5], [0.3, 0.3], [0.18, 0.12], [0.05, -0.02],
  [-0.1, -0.15], [-0.25, -0.28], [-0.4, -0.4], [-0.55, -0.45], [-0.68, -0.25], [-0.6, -0.05], [-0.45, 0.12],
  [-0.3, 0.25], [-0.15, 0.38], [0.0, 0.48], [0.12, 0.3], [0.2, 0.1], [0.28, -0.1], [0.15, -0.2],
  [0.0, -0.32], [-0.15, -0.42], [-0.3, -0.5], [-0.45, -0.3], [-0.35, -0.1], [-0.2, 0.05], [-0.05, 0.15],
  [0.1, 0.25], [0.25, 0.32], [0.4, 0.38], [0.55, 0.45], [0.7, 0.5], [0.85, 0.55], [0.7, 0.3], [0.55, 0.15],
  [0.4, 0.05], [0.25, -0.05], [0.1, -0.15], [-0.05, -0.25], [-0.2, -0.35], [-0.35, -0.3], [-0.5, -0.15],
  [-0.6, 0.05], [-0.48, 0.2], [-0.32, 0.32], [-0.18, 0.45], [-0.02, 0.35], [0.12, 0.2], [0.25, 0.05],
  [0.35, -0.08], [0.5, -0.12], [0.7, -0.05], [0.9, 0.1], [1.1, 0.25], [1.2, 0.4], [1.05, 0.35], [0.85, 0.25],
  [0.65, 0.15], [0.45, 0.1], [0.25, 0.0], [0.05, -0.12], [-0.15, -0.25], [-0.35, -0.38], [-0.55, -0.55],
  [-0.7, -0.7], [-0.6, -0.45], [-0.48, -0.25], [-0.35, -0.1], [-0.2, 0.0], [-0.05, 0.12], [0.1, 0.2],
  [0.25, 0.28],
];

const X_TICKS = [-3, -2, -1, 0, 1, 2];
const Y_TICKS = [-3, -2, -1, 0, 1, 2, 3];
const X_DOMAIN: [number, number] = [-3.2, 2.2];
const Y_DOMAIN: [number, number] = [-3.8, 4];
const X_LABEL = "DISPLACEMENT (cm)";
const Y_LABEL = "MASS NORMALIZED RESTORING FORCE (N/kg)";
const CAPTION_WORDS = ["Restoring", "force", "vs", "displace-"];

const PANELS = [
  { id: "a", level: "7", data: G7, left: 43.3, top: 15, width: 326, height: 258.3, capL: 9, capR: 370, capY: 335 },
  { id: "b", level: "6", data: G6, left: 423.3, top: 15, width: 326, height: 258.3, capL: 389, capR: 757, capY: 335 },
  { id: "c", level: "5", data: G5, left: 804.3, top: 15, width: 326, height: 258.3, capL: 770, capR: 1126, capY: 335 },
  { id: "d", level: "4", data: G4, left: 39, top: 412.3, width: 325.3, height: 258.4, capL: 9, capR: 370, capY: 732 },
  { id: "e", level: "3", data: G3, left: 419, top: 412.3, width: 325.3, height: 258.4, capL: 389, capR: 757, capY: 732 },
  { id: "f", level: "2", data: G2, left: 799.3, top: 412.3, width: 325.3, height: 258.4, capL: 767, capR: 1126, capY: 732 },
];

const SANS = '"Liberation Sans", Arial, Helvetica, sans-serif';
const SERIF = '"Liberation Serif", "Times New Roman", Times, serif';
const CAP_SIZE = 22.5;
// Glyphs in the figure are set a little wider than their height suggests.
const STRETCH = 1.15;

function fmt(v: number) {
  return v < 0 ? `\u2212${Math.abs(v)}` : `${v}`;
}

let measureCtx: CanvasRenderingContext2D | null = null;
function measure(text: string, font: string) {
  if (!measureCtx) measureCtx = document.createElement("canvas").getContext("2d");
  if (!measureCtx) return text.length * 10;
  measureCtx.font = font;
  return measureCtx.measureText(text).width;
}

function Caption({ id, level, x0, x1, y }: { id: string; level: string; x0: number; x1: number; y: number }) {
  const words = [`(${id})`, ...CAPTION_WORDS];
  const font = `${CAP_SIZE}px "Liberation Serif"`;
  const widths = words.map((w) => measure(w, font));
  const total = widths.reduce((s, w) => s + w, 0);
  const avail = (x1 - x0) / STRETCH;
  const gap = (avail - total) / (words.length - 1);
  let cx = 0;
  const placed = words.map((w, i) => {
    const x = cx;
    cx += widths[i] + gap;
    return { w, x };
  });
  return (
    <g transform={`translate(${x0},${y}) scale(${STRETCH},1)`} fontFamily={SERIF} fontSize={CAP_SIZE} fill="#000">
      {placed.map((p) => (
        <text key={p.w} x={p.x} y={0}>
          {p.w}
        </text>
      ))}
      <text x={0} y={27}>
        ment at <tspan fontStyle="italic">G</tspan>
        <tspan fontSize={16} dy={4.5}>
          {level}
        </tspan>
      </text>
    </g>
  );
}

function TickLabel({ x, y, anchor, text }: { x: number; y: number; anchor: string; text: string }) {
  return (
    <g transform={`translate(${x},${y}) scale(1.12,1)`}>
      <text textAnchor={anchor} fontFamily={SANS} fontSize={10.4} fill="#000">
        {text}
      </text>
    </g>
  );
}

function Panel(p: (typeof PANELS)[number]) {
  const x = d3.scaleLinear().domain(X_DOMAIN).range([p.left, p.left + p.width]);
  const y = d3.scaleLinear().domain(Y_DOMAIN).range([p.top + p.height, p.top]);
  const line = d3
    .line<Pt>()
    .x((d) => x(d[0]))
    .y((d) => y(d[1]));
  const bottom = p.top + p.height;
  const right = p.left + p.width;
  const tl = 4;
  return (
    <g>
      <path d={line(p.data) ?? ""} fill="none" stroke="#0000ff" strokeWidth={1} strokeLinejoin="round" />
      <rect x={p.left} y={p.top} width={p.width} height={p.height} fill="none" stroke="#000" strokeWidth={1} />
      {X_TICKS.map((t) => (
        <g key={`x${t}`}>
          <line x1={x(t)} x2={x(t)} y1={bottom} y2={bottom - tl} stroke="#000" strokeWidth={0.8} />
          <line x1={x(t)} x2={x(t)} y1={p.top} y2={p.top + tl} stroke="#000" strokeWidth={0.8} />
          <TickLabel x={x(t)} y={bottom + 14} anchor="middle" text={fmt(t)} />
        </g>
      ))}
      {Y_TICKS.map((t) => (
        <g key={`y${t}`}>
          <line x1={p.left} x2={p.left + tl} y1={y(t)} y2={y(t)} stroke="#000" strokeWidth={0.8} />
          <line x1={right} x2={right - tl} y1={y(t)} y2={y(t)} stroke="#000" strokeWidth={0.8} />
          <TickLabel x={p.left - 5} y={y(t) + 3.7} anchor="end" text={fmt(t)} />
        </g>
      ))}
      <text
        x={(p.left + right) / 2}
        y={bottom + 25}
        textAnchor="middle"
        fontFamily={SANS}
        fontSize={10.4}
        textLength={117}
        lengthAdjust="spacingAndGlyphs"
        fill="#000"
      >
        {X_LABEL}
      </text>
      <text
        transform={`translate(${p.left - 22},${(p.top + bottom) / 2}) rotate(-90)`}
        textAnchor="middle"
        fontFamily={SANS}
        fontSize={10.4}
        textLength={262}
        lengthAdjust="spacingAndGlyphs"
        fill="#000"
      >
        {Y_LABEL}
      </text>
      <Caption id={p.id} level={p.level} x0={p.capL} x1={p.capR} y={p.capY} />
    </g>
  );
}

export default function App() {
  return (
    <div style={{ position: "absolute", left: 0, top: 0, width: 1129, height: 768, background: "#fff" }}>
      <svg width={1129} height={768} viewBox="0 0 1129 768" style={{ display: "block" }}>
        <rect x={0} y={0} width={1129} height={768} fill="#fff" />
        {PANELS.map((p) => (
          <Panel key={p.id} {...p} />
        ))}
      </svg>
    </div>
  );
}
